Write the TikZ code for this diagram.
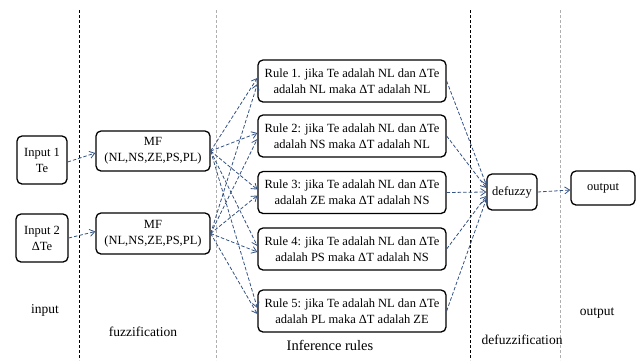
\documentclass[tikz,border=0pt]{standalone}
\usepackage{fontspec}
\setmainfont{Liberation Serif}
\usetikzlibrary{arrows.meta,calc}
\definecolor{arr}{RGB}{52,82,130}
\definecolor{sepgray}{RGB}{175,175,175}
\tikzset{
  box/.style={draw=black, line width=1.3pt, rounded corners=5pt, align=center, inner sep=1pt,
    font=\fontsize{12.5}{16}\selectfont},
  conn/.style={draw=arr, line width=0.8pt, dash pattern=on 3.5pt off 2pt,
    -{Straight Barb[length=5pt,width=7pt,line width=0.8pt]}},
  sepblack/.style={draw=black, line width=0.9pt, dash pattern=on 3pt off 2pt},
  seplight/.style={draw=sepgray, line width=0.7pt, dash pattern=on 3pt off 2pt},
  lab/.style={font=\fontsize{13.5}{15}\selectfont, inner sep=0pt}
}
\begin{document}
\begin{tikzpicture}[x=1pt,y=-1pt]
\useasboundingbox (0,0) rectangle (637,360);
% separators
\coordinate (s1t) at (79,10);  \coordinate (s1b) at (79,360);
\coordinate (s2t) at (216,10); \coordinate (s2b) at (216,360);
\coordinate (s3t) at (470,10); \coordinate (s3b) at (470,360);
\coordinate (s4t) at (560,10); \coordinate (s4b) at (560,360);
\draw[sepblack] (s1t) -- (s1b);
\draw[seplight] (s2t) -- (s2b);
\draw[sepblack] (s3t) -- (s3b);
\draw[seplight] (s4t) -- (s4b);
% boxes
\node[box, minimum width=50pt, minimum height=48pt] (in1) at (42,160) {Input 1\\Te};
\node[box, minimum width=52pt, minimum height=48pt] (in2) at (42,238) {Input 2\\ΔTe};
\node[box, minimum width=114pt, minimum height=40pt] (mf1) at (153,151) {MF\\(NL,NS,ZE,PS,PL)};
\node[box, minimum width=114pt, minimum height=41pt] (mf2) at (153,233.5) {MF\\(NL,NS,ZE,PS,PL)};
\node[box, minimum width=188pt, minimum height=42pt] (r1) at (352,81) {Rule 1. jika Te adalah NL dan ΔTe\\adalah NL maka ΔT adalah NL};
\node[box, minimum width=188pt, minimum height=42pt] (r2) at (352,136) {Rule 2: jika Te adalah NL dan ΔTe\\adalah NS maka ΔT adalah NL};
\node[box, minimum width=188pt, minimum height=42pt] (r3) at (352,192.5) {Rule 3: jika Te adalah NL dan ΔTe\\adalah ZE maka ΔT adalah NS};
\node[box, minimum width=188pt, minimum height=42pt] (r4) at (352,249) {Rule 4: jika Te adalah NL dan ΔTe\\adalah PS maka ΔT adalah NS};
\node[box, minimum width=188pt, minimum height=42pt] (r5) at (352,311) {Rule 5: jika Te adalah NL dan ΔTe\\adalah PL maka ΔT adalah ZE};
\node[box, minimum width=50pt, minimum height=36pt] (dz) at (512,192) {defuzzy};
\node[box, minimum width=64pt, minimum height=34pt] (out) at (603,188) {output};
% labels
\node[lab] (linput) at (45,310) {input};
\node[lab] (lfuzz) at (143,332) {fuzzification};
\node[lab, font=\fontsize{14.5}{16}\selectfont] (linf) at (330,345) {Inference rules};
\node[lab] (ldefuzz) at (522,340) {defuzzification};
\node[lab] (lout) at (597,313) {output};
% connectors
\draw[conn] ($(in1.east)+(0,2)$) -- ($(mf1.west)+(0,2)$);
\draw[conn] (in2.east) -- ($(mf2.west)+(0,-2)$);
\foreach \r in {r1,r2,r3,r4,r5}{
  \draw[conn] (mf1.east) -- ($(\r.west)+(0,-3)$);
  \draw[conn] (mf2.east) -- ($(\r.west)+(0,3)$);
}
\draw[conn] (r1.east) -- ($(dz.west)+(0,-7)$);
\draw[conn] (r2.east) -- ($(dz.west)+(0,-4)$);
\draw[conn] (r3.east) -- ($(dz.west)+(0,0)$);
\draw[conn] (r4.east) -- ($(dz.west)+(0,4)$);
\draw[conn] (r5.east) -- ($(dz.west)+(0,7)$);
\draw[conn] (dz.east) -- ($(out.west)+(0,2)$);
\end{tikzpicture}
\end{document}
